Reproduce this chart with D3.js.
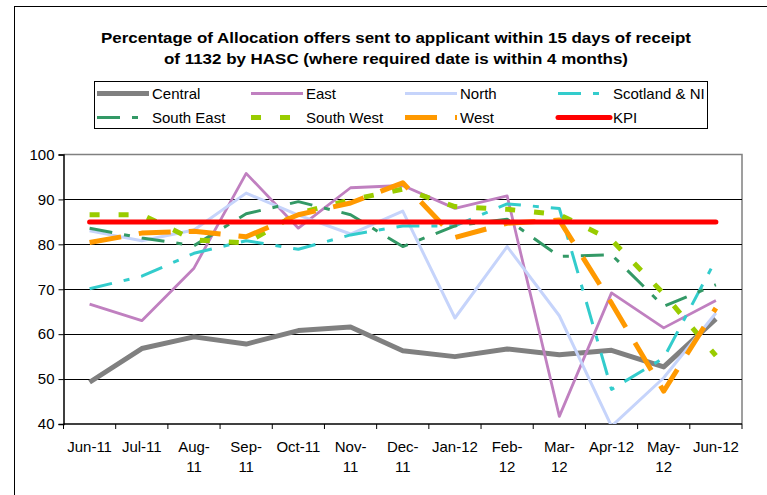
<!DOCTYPE html>
<html>
<head>
<meta charset="utf-8">
<script src="https://cdn.jsdelivr.net/npm/d3@7"></script>
<style>
  body { margin: 0; background: #fff; }
  text { font-family: "Liberation Sans", Arial, sans-serif; fill: #000; }
</style>
</head>
<body>
<svg id="chart" width="767" height="495"></svg>
<script>
// months on the category axis, labels wrap like the original
const months = ["Jun-11", "Jul-11", "Aug-11", "Sep-11", "Oct-11", "Nov-11", "Dec-11",
                "Jan-12", "Feb-12", "Mar-12", "Apr-12", "May-12", "Jun-12"];
const monthLabels = ["Jun-11", "Jul-11", "Aug-|11", "Sep-|11", "Oct-11", "Nov-|11", "Dec-|11",
                     "Jan-12", "Feb-|12", "Mar-|12", "Apr-12", "May-|12", "Jun-12"];
const yTicks = [40, 50, 60, 70, 80, 90, 100];

// series values (%)
const central    = [49.3, 56.8, 59.4, 57.8, 60.8, 61.6, 56.3, 55.0, 56.7, 55.4, 56.4, 52.7, 63.4];
const east       = [66.7, 63.0, 74.7, 95.8, 83.6, 92.6, 93.1, 88.0, 90.8, 41.7, 69.2, 61.4, 67.5];
const north      = [83.0, 80.8, 83.2, 91.4, 86.5, 82.3, 87.4, 63.6, 79.5, 64.1, 39.5, 50.3, 64.7];
const scotlandNI = [70.1, 72.9, 78.0, 80.8, 78.9, 82.1, 84.1, 84.1, 89.0, 88.0, 47.7, 54.7, 76.6];
const southEast  = [83.6, 81.4, 79.7, 86.8, 89.5, 86.6, 79.5, 84.1, 85.6, 77.3, 77.7, 66.2, 71.0];
const southWest  = [86.6, 86.6, 81.0, 80.3, 86.9, 89.9, 92.3, 88.4, 87.8, 86.6, 81.0, 69.0, 55.2];
const west       = [80.4, 82.5, 82.9, 81.7, 86.6, 89.2, 93.7, 81.5, 84.7, 85.4, 66.9, 47.3, 65.8];
const kpi        = [85, 85, 85, 85, 85, 85, 85, 85, 85, 85, 85, 85, 85];

const series = [
  { name: "Central",       values: central,    color: "#808080", width: 5,   dash: null },
  { name: "East",          values: east,       color: "#c080c0", width: 2.8, dash: null },
  { name: "North",         values: north,      color: "#c6d4fb", width: 3,   dash: null },
  { name: "Scotland & NI", values: scotlandNI, color: "#33cccc", width: 3,   dash: "23,12,6,12" },
  { name: "South East",    values: southEast,  color: "#339966", width: 3,   dash: "23,12,6,12" },
  { name: "South West",    values: southWest,  color: "#99cc00", width: 5,   dash: "10,19" },
  { name: "West",          values: west,       color: "#ff9900", width: 5,   dash: "32,18" },
  { name: "KPI",           values: kpi,        color: "#ff0000", width: 5,   dash: null, cap: "round" }
];

const svg = d3.select("#chart");

// outer chart frame
svg.append("rect")
  .attr("x", 14.5).attr("y", 6.5)
  .attr("width", 780).attr("height", 520)
  .attr("fill", "#fff").attr("stroke", "#000");

// title (stretched to the original's width)
const title = svg.append("text")
  .attr("text-anchor", "middle")
  .style("font-weight", "bold")
  .style("font-size", "15px");
title.append("tspan").attr("x", 396).attr("y", 43)
  .attr("textLength", 590).attr("lengthAdjust", "spacingAndGlyphs")
  .text("Percentage of Allocation offers sent to applicant within 15 days of receipt");
title.append("tspan").attr("x", 396).attr("y", 64)
  .attr("textLength", 464).attr("lengthAdjust", "spacingAndGlyphs")
  .text("of 1132 by HASC (where required date is within 4 months)");

// legend
const legend = svg.append("g");
legend.append("rect")
  .attr("x", 94.5).attr("y", 81.5)
  .attr("width", 613).attr("height", 47)
  .attr("fill", "#fff").attr("stroke", "#000");

const legX = [97, 251, 405, 558];
const legY = [93.5, 117.5];
series.forEach((s, i) => {
  const lx = legX[i % 4], ly = legY[Math.floor(i / 4)];
  legend.append("line")
    .attr("x1", lx).attr("x2", lx + 52)
    .attr("y1", ly).attr("y2", ly)
    .attr("stroke", s.color)
    .attr("stroke-width", s.width)
    .attr("stroke-dasharray", s.dash)
    .attr("stroke-linecap", s.cap || "butt");
  legend.append("text")
    .attr("x", lx + 55).attr("y", ly + 5.5)
    .style("font-size", "15px")
    .text(s.name);
});

// plot area
const pLeft = 63.5, pRight = 742, pTop = 154.5, pBottom = 424;

const x = d3.scaleBand().domain(months).range([pLeft, pRight]);
const y = d3.scaleLinear().domain([40, 100]).range([pBottom, pTop]);
const cx = m => x(m) + x.bandwidth() / 2;

// plot border (top and right are grey)
svg.append("path")
  .attr("d", `M${pLeft},${pTop}H${pRight}V${pBottom}`)
  .attr("fill", "none").attr("stroke", "#808080").attr("stroke-width", 1.5);

// gridlines
svg.append("g")
  .selectAll("line")
  .data(yTicks.filter(d => d > 40 && d < 100))
  .join("line")
  .attr("x1", pLeft).attr("x2", pRight)
  .attr("y1", d => Math.round(y(d)) + 0.5).attr("y2", d => Math.round(y(d)) + 0.5)
  .attr("stroke", "#000");

// y axis
const yAxis = svg.append("g")
  .attr("transform", `translate(${pLeft},0)`)
  .call(d3.axisLeft(y).tickValues(yTicks).tickSize(5).tickPadding(4));
yAxis.select(".domain").attr("stroke", "#000").attr("stroke-width", 1.5);
yAxis.selectAll("text").style("font-size", "15px").style("font-family", "Liberation Sans, Arial, sans-serif");

// x axis line and tick marks at category boundaries
svg.append("line")
  .attr("x1", pLeft).attr("x2", pRight)
  .attr("y1", pBottom).attr("y2", pBottom)
  .attr("stroke", "#000").attr("stroke-width", 1.5);
svg.append("g")
  .selectAll("line")
  .data(months.map(m => x(m)).concat([pRight]))
  .join("line")
  .attr("x1", d => d).attr("x2", d => d)
  .attr("y1", pBottom).attr("y2", pBottom + 5)
  .attr("stroke", "#000");

// x labels
svg.append("g")
  .selectAll("text")
  .data(months)
  .join("text")
  .attr("text-anchor", "middle")
  .style("font-size", "15px")
  .each(function (m, i) {
    const parts = monthLabels[i].split("|");
    d3.select(this).selectAll("tspan")
      .data(parts)
      .join("tspan")
      .attr("x", cx(m))
      .attr("y", (d, j) => 452 + j * 20)
      .text(d => d);
  });

// series lines
svg.append("defs").append("clipPath").attr("id", "plotclip")
  .append("rect").attr("x", pLeft).attr("y", pTop - 5)
  .attr("width", pRight - pLeft).attr("height", pBottom - pTop + 5);

const line = d3.line()
  .x((d, i) => cx(months[i]))
  .y(d => y(d));

svg.append("g")
  .attr("clip-path", "url(#plotclip)")
  .selectAll("path")
  .data(series)
  .join("path")
  .attr("d", d => line(d.values))
  .attr("fill", "none")
  .attr("stroke", d => d.color)
  .attr("stroke-width", d => d.width)
  .attr("stroke-dasharray", d => d.dash)
  .attr("stroke-linecap", d => d.cap || "butt")
  .attr("stroke-linejoin", "round");
</script>
</body>
</html>
